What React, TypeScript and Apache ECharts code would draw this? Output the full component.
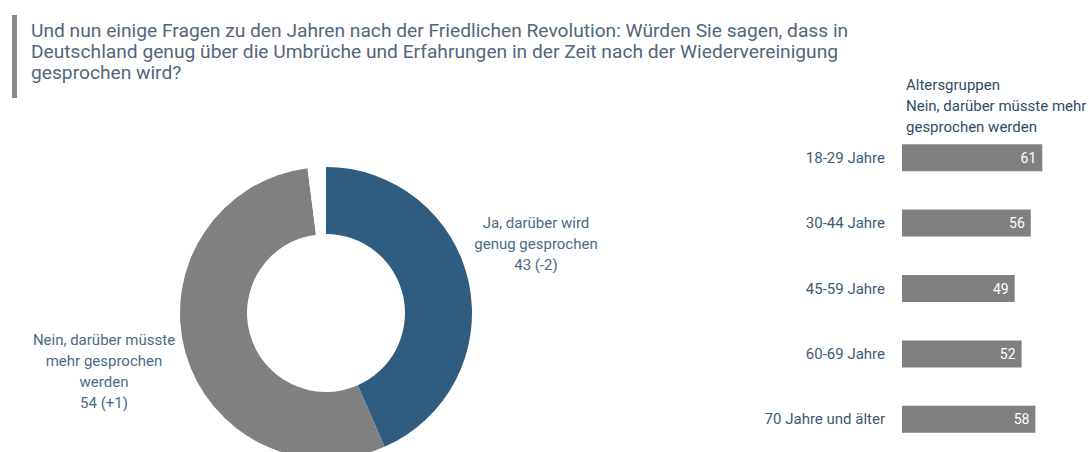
import React, { useEffect, useRef } from "react";
import * as echarts from "echarts";

const titleLines = [
  "Und nun einige Fragen zu den Jahren nach der Friedlichen Revolution: Würden Sie sagen, dass in",
  "Deutschland genug über die Umbrüche und Erfahrungen in der Zeit nach der Wiedervereinigung",
  "gesprochen wird?",
];

const pieNames = ["Ja, darüber wird genug gesprochen", "Nein, darüber müsste mehr gesprochen werden", "Weiß nicht / keine Angabe"];
const pieValues = [43, 54, 2];
const pieChanges = ["-2", "+1", ""];
const pieLabelLines = [
  ["Ja, darüber wird", "genug gesprochen"],
  ["Nein, darüber müsste", "mehr gesprochen", "werden"],
];

const barHeader = ["Altersgruppen", "Nein, darüber müsste mehr", "gesprochen werden"];
const ageGroups = ["18-29 Jahre", "30-44 Jahre", "45-59 Jahre", "60-69 Jahre", "70 Jahre und älter"];
const ageValues = [61, 56, 49, 52, 58];

const FONT = "Roboto, 'Noto Sans', sans-serif";

export default function App() {
  const ref = useRef<HTMLDivElement>(null);
  useEffect(() => {
    if (!ref.current) return;
    const chart = echarts.init(ref.current, undefined, { renderer: "svg" });
    const labelText = (i: number) =>
      [...pieLabelLines[i], `${pieValues[i]} (${pieChanges[i]})`].join("\n");
    chart.setOption({
      animation: false,
      backgroundColor: "#ffffff",
      textStyle: { fontFamily: FONT },
      grid: { left: 902, width: 161, top: 125, height: 333, containLabel: false },
      xAxis: { type: "value", min: 0, max: 70, show: false },
      yAxis: {
        type: "category",
        data: ageGroups,
        inverse: true,
        axisLine: { show: false },
        axisTick: { show: false },
        axisLabel: { fontSize: 15, color: "#3c5a78", margin: 17, fontFamily: FONT },
      },
      series: [
        {
          type: "pie",
          center: [326, 313],
          radius: [79, 146],
          startAngle: 90,
          clockwise: true,
          label: { show: false },
          labelLine: { show: false },
          silent: true,
          data: pieNames.map((n, i) => ({
            name: n,
            value: pieValues[i],
            itemStyle: { color: ["#2f5d82", "#808080", "#ffffff"][i] },
          })),
        },
        {
          type: "bar",
          data: ageValues,
          barWidth: 27,
          itemStyle: { color: "#808080" },
          label: {
            show: true,
            position: "insideRight",
            distance: 6,
            color: "#ffffff",
            fontSize: 14,
            fontFamily: FONT,
          },
        },
      ],
      graphic: [
        { type: "rect", shape: { x: 12, y: 15, width: 5, height: 83 }, style: { fill: "#8a8a8a" } },
        {
          type: "text",
          x: 31,
          y: 20,
          style: {
            text: titleLines.join("\n"),
            fontSize: 19.2,
            lineHeight: 21,
            fill: "#53667a",
            fontFamily: FONT,
          },
        },
        {
          type: "text",
          x: 536,
          y: 212,
          style: {
            text: labelText(0),
            fontSize: 15,
            lineHeight: 21,
            fill: "#4a6a8a",
            align: "center",
            fontFamily: FONT,
          },
        },
        {
          type: "text",
          x: 104,
          y: 329,
          style: {
            text: labelText(1),
            fontSize: 15,
            lineHeight: 21,
            fill: "#4a6a8a",
            align: "center",
            fontFamily: FONT,
          },
        },
        {
          type: "text",
          x: 906,
          y: 74,
          style: {
            text: barHeader.join("\n"),
            fontSize: 15,
            lineHeight: 21,
            fill: "#2f4b68",
            fontFamily: FONT,
          },
        },
      ],
    });
    return () => chart.dispose();
  }, []);
  return <div ref={ref} style={{ width: 1089, height: 452, position: "absolute", left: 0, top: 0 }} />;
}
